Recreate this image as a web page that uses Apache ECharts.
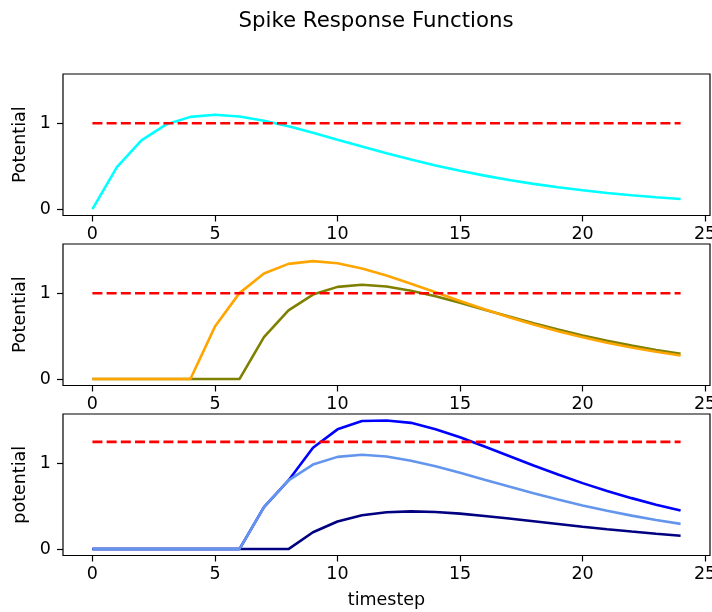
<!DOCTYPE html>
<html><head><meta charset="utf-8">
<script src="https://cdn.jsdelivr.net/npm/echarts@6/dist/echarts.min.js"></script>
<style>html,body{margin:0;padding:0;background:#fff}#c{width:712px;height:612px}</style>
</head><body><div id="c"></div>
<script>
const timesteps = [0,1,2,3,4,5,6,7,8,9,10,11,12,13,14,15,16,17,18,19,20,21,22,23,24];
const xTicks = [0,5,10,15,20,25];
const yTicks = [0,1];
const titleText = 'Spike Response Functions';
const yNames = ['Potential','Potential','potential'];
const xName = 'timestep';

// subplot 1
const srfCyan = [0,0.49,0.80,0.985,1.075,1.10,1.08,1.03,0.966,0.89,0.809,0.729,0.651,0.577,0.509,0.447,0.390,0.339,0.294,0.254,0.219,0.188,0.162,0.138,0.118];
const threshold1 = 1;
// subplot 2
const srfOlive = [0,0,0,0,0,0,0,0.49,0.80,0.985,1.075,1.10,1.08,1.03,0.966,0.89,0.809,0.729,0.651,0.577,0.509,0.447,0.390,0.339,0.294];
const srfOrange = [0,0,0,0,0,0.612,1.002,1.231,1.343,1.375,1.351,1.290,1.207,1.112,1.012,0.911,0.814,0.722,0.636,0.558,0.488,0.424,0.368,0.318,0.275];
const threshold2 = 1;
// subplot 3
const srfBlue = [0,0,0,0,0,0,0,0.49,0.80,1.181,1.396,1.494,1.50,1.472,1.398,1.303,1.195,1.085,0.975,0.869,0.769,0.678,0.594,0.518,0.450];
const srfNavy = [0,0,0,0,0,0,0,0,0,0.196,0.321,0.394,0.430,0.44,0.432,0.413,0.386,0.356,0.324,0.292,0.260,0.231,0.204,0.179,0.156];
const srfCorn = [0,0,0,0,0,0,0,0.49,0.80,0.985,1.075,1.10,1.08,1.03,0.966,0.89,0.809,0.729,0.651,0.577,0.509,0.447,0.390,0.339,0.294];
const threshold3 = 1.25;

const FONT = 'DejaVu Sans';
const FS = 17.5;
const LW = 2.6;
const gridTops = [74, 244, 414];
const gridH = 141.5;

function pairs(vals){ return timesteps.map((t,i)=>[t, vals[i]]); }
function thrLine(v){ return timesteps.map(t=>[t, v]); }

const grids = gridTops.map(t=>({left:63, right:2, top:t, height:gridH, show:true, borderColor:'#000', borderWidth:1.2,
  backgroundColor:'transparent', containLabel:false, outerBoundsMode:'none'}));

const xAxes = gridTops.map((t,i)=>({
  type:'value', gridIndex:i, min:-1.2, max:25.2, position:'bottom',
  axisLine:{show:false, onZero:false}, splitLine:{show:false},
  axisTick:{show:true, customValues:xTicks, length:6, lineStyle:{color:'#000', width:1.2}},
  axisLabel:{customValues:xTicks, color:'#000', fontSize:FS, fontFamily:FONT, margin:10},
  name: i===2 ? xName : '', nameLocation:'middle', nameGap:36,
  nameTextStyle:{color:'#000', fontSize:FS, fontFamily:FONT}
}));
const yAxes = gridTops.map((t,i)=>({
  type:'value', gridIndex:i, min:-0.075, max:1.575, position:'left',
  axisLine:{show:false, onZero:false}, splitLine:{show:false},
  axisTick:{show:true, customValues:yTicks, length:6, lineStyle:{color:'#000', width:1.2}},
  axisLabel:{customValues:yTicks, color:'#000', fontSize:FS, fontFamily:FONT, margin:12},
  name: yNames[i], nameLocation:'middle', nameGap:33,
  nameTextStyle:{color:'#000', fontSize:FS, fontFamily:FONT}
}));

function line(idx, vals, color, dashed){
  return {type:'line', xAxisIndex:idx, yAxisIndex:idx, data:vals, showSymbol:false, symbol:'none',
    animation:false, silent:true,
    lineStyle:{color:color, width:LW, type: dashed ? [10,4.2] : 'solid'}};
}

const series = [
  line(0, pairs(srfCyan), '#00ffff'),
  line(0, thrLine(threshold1), '#ff0000', true),
  line(1, pairs(srfOlive), '#808000'),
  line(1, pairs(srfOrange), '#ffa500'),
  line(1, thrLine(threshold2), '#ff0000', true),
  line(2, pairs(srfBlue), '#0000ff'),
  line(2, pairs(srfNavy), '#000080'),
  line(2, pairs(srfCorn), '#6495ed'),
  line(2, thrLine(threshold3), '#ff0000', true)
];

const chart = echarts.init(document.getElementById('c'), null, {renderer:'canvas'});
chart.setOption({
  backgroundColor:'#fff',
  animation:false,
  grid:grids, xAxis:xAxes, yAxis:yAxes, series:series,
  graphic:[{type:'text', x:376, y:21, style:{text:titleText, textAlign:'center', textVerticalAlign:'middle', font:'21.3px "DejaVu Sans"', fill:'#000'}}]
});
</script></body></html>
